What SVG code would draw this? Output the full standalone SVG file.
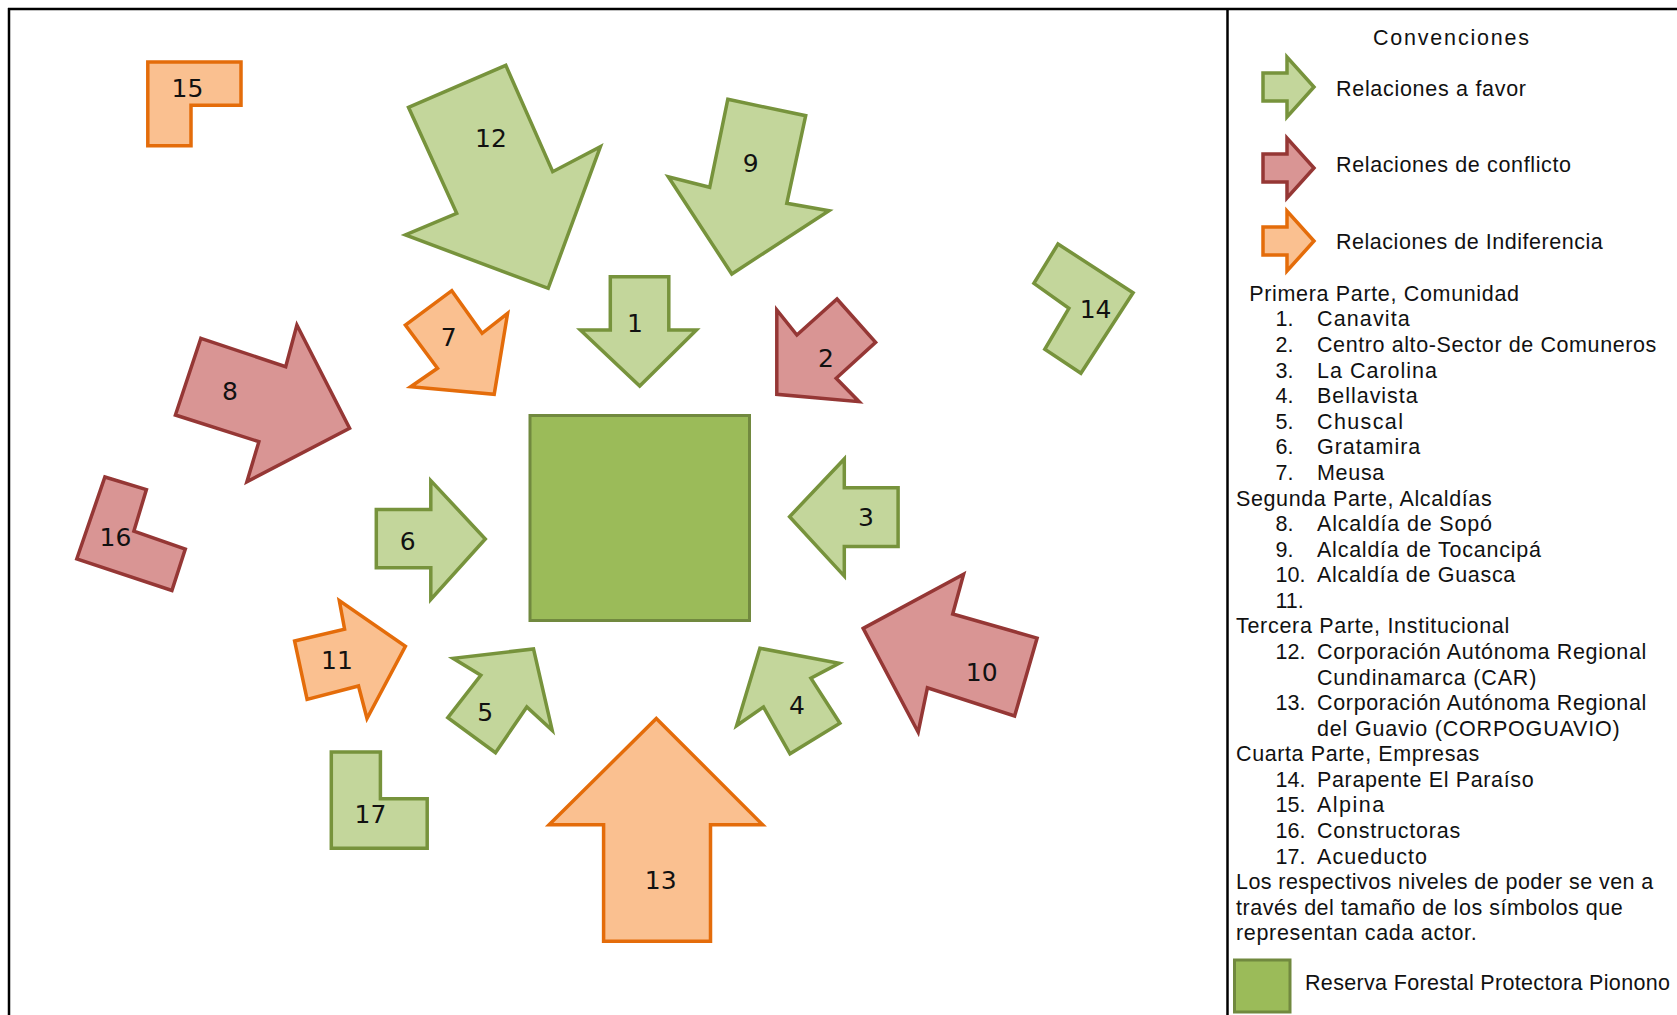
<svg xmlns="http://www.w3.org/2000/svg" width="1677" height="1015" viewBox="0 0 1677 1015">
<style>
.g{fill:#C3D69B;stroke:#77933C;stroke-width:3.5;stroke-linejoin:miter}
.r{fill:#D99594;stroke:#953735;stroke-width:3.5;stroke-linejoin:miter}
.o{fill:#FAC090;stroke:#E46C0A;stroke-width:3.5;stroke-linejoin:miter}
.sq{fill:#9BBB59;stroke:#71893F;stroke-width:3}
.lbl{font-family:"DejaVu Sans","Liberation Sans",sans-serif;font-size:25px;fill:#111;text-anchor:middle}
.lt{font-family:"Liberation Sans",Arial,sans-serif;font-size:21.5px;fill:#111}
.frame{stroke:#000;stroke-width:2.5;fill:none}
</style>
<defs>
<path id="legArrow" d="M0,-14 H24 V-30 L51,0 L24,30 V14 H0 Z"/>
</defs>
<rect width="1677" height="1015" fill="#fff"/>
<g id="frame">
<line class="frame" x1="8" y1="9" x2="1677" y2="9"/>
<line class="frame" x1="9" y1="8" x2="9" y2="1015"/>
<line class="frame" x1="1227.5" y1="8" x2="1227.5" y2="1015"/>
</g>
<g id="connectors"/>
<g id="reserva"><rect class="sq" x="530" y="415.5" width="219.5" height="205"/></g>
<g id="n1"><polygon class="g" points="610.3,276.7 668.8,276.7 668.8,330 696.4,330 639.7,386 580.4,330 610.3,330"/><text class="lbl" x="635" y="332">1</text></g>
<g id="n2"><polygon class="r" points="837,299 875.6,342.3 836.2,378.3 859.1,401.7 776.8,394.3 776.8,310 796.9,335"/><text class="lbl" x="826" y="366.7">2</text></g>
<g id="n3"><polygon class="g" points="789.6,516.7 844.3,459 844.3,487.8 898.1,487.8 898.1,546.6 844.3,546.6 844.3,576.1"/><text class="lbl" x="866" y="526.4">3</text></g>
<g id="n4"><polygon class="g" points="759.9,648.2 839.1,663.3 810.9,678.1 839.9,723.2 790,753.8 763.5,707 736.6,725.7"/><text class="lbl" x="797" y="714">4</text></g>
<g id="n5"><polygon class="g" points="533.5,648.9 552.2,730.4 526.8,707 495.5,752.7 447.8,717.7 480.8,675.2 453.1,658.3"/><text class="lbl" x="485.3" y="721">5</text></g>
<g id="n6"><polygon class="g" points="376.3,509.5 430.8,509.5 430.8,480.6 485.3,539 430.8,599.5 430.8,567.8 376.3,567.8"/><text class="lbl" x="407.6" y="550">6</text></g>
<g id="n7"><polygon class="o" points="451.8,290.7 482.1,333.3 507.6,313.3 494.2,394.3 410.7,386.7 437.5,368.3 405.4,325"/><text class="lbl" x="448.7" y="346">7</text></g>
<g id="n8"><polygon class="r" points="200.9,338.3 285.7,366.7 296.9,325 349.6,428.3 246.9,481.7 258.9,441.7 175.4,415"/><text class="lbl" x="229.9" y="400">8</text></g>
<g id="n9"><polygon class="g" points="727.8,99.3 805.7,115.7 786.8,203.3 829,210.7 731.8,274 668.3,176.7 709.7,187.3"/><text class="lbl" x="750.7" y="171.7">9</text></g>
<g id="n10"><polygon class="r" points="863.2,628.4 963.6,574.3 952.7,614 1037.1,638.1 1014.6,716 927.4,687.8 918.2,732.2"/><text class="lbl" x="981.7" y="680.6">10</text></g>
<g id="n11"><polygon class="o" points="294.6,641 344.6,629.1 339.3,600.6 405.4,646.4 367,718.5 358.5,686 307.1,699.4"/><text class="lbl" x="337" y="669">11</text></g>
<g id="n12"><polygon class="g" points="408.5,107.3 505.8,65.3 552.7,171.7 600.4,146.7 548.2,288.3 405.4,235 456.7,213.3"/><text class="lbl" x="491" y="146.7">12</text></g>
<g id="n13"><polygon class="o" points="656.3,718.5 762.7,824.8 710.5,824.8 710.5,941.2 603.6,941.2 603.6,824.8 549.1,824.8"/><text class="lbl" x="660.7" y="888.6">13</text></g>
<g id="n14"><polygon class="g" points="1058,244 1133.1,292.7 1080.9,373.3 1044.8,349.3 1068.9,308.3 1033.9,283.3"/><text class="lbl" x="1095.6" y="318.3">14</text></g>
<g id="n15"><polygon class="o" points="147.8,62 241,62 241,105.3 191,105.3 191,145.7 147.8,145.7"/><text class="lbl" x="187.5" y="97.3">15</text></g>
<g id="n16"><polygon class="r" points="104.9,477 146.4,489.6 133.9,531.1 185.3,549.1 171.9,590.5 76.8,558.8"/><text class="lbl" x="115.4" y="545.5">16</text></g>
<g id="n17"><polygon class="g" points="331.3,752 380.4,752 380.4,798.8 427.2,798.8 427.2,848.2 331.3,848.2"/><text class="lbl" x="370.5" y="823">17</text></g>
<g id="legend">
<text class="lt" x="1373" y="45" textLength="156" lengthAdjust="spacing">Convenciones</text>
<use href="#legArrow" class="g" transform="translate(1263,87)"/>
<text class="lt" x="1336" y="95.5" textLength="190" lengthAdjust="spacing">Relaciones a favor</text>
<use href="#legArrow" class="r" transform="translate(1263,168)"/>
<text class="lt" x="1336" y="172.3" textLength="235" lengthAdjust="spacing">Relaciones de conflicto</text>
<use href="#legArrow" class="o" transform="translate(1263,241)"/>
<text class="lt" x="1336" y="249.3" textLength="266.7" lengthAdjust="spacing">Relaciones de Indiferencia</text>
<text class="lt" x="1249.3" y="300.7" textLength="269.7" lengthAdjust="spacing">Primera Parte, Comunidad</text>
<text class="lt" x="1275.5" y="326.3">1.</text><text class="lt" x="1317" y="326.3" textLength="92.7" lengthAdjust="spacing">Canavita</text>
<text class="lt" x="1275.5" y="351.9">2.</text><text class="lt" x="1317" y="351.9" textLength="339.3" lengthAdjust="spacing">Centro alto-Sector de Comuneros</text>
<text class="lt" x="1275.5" y="377.5">3.</text><text class="lt" x="1317" y="377.5" textLength="120" lengthAdjust="spacing">La Carolina</text>
<text class="lt" x="1275.5" y="403.1">4.</text><text class="lt" x="1317" y="403.1" textLength="100.7" lengthAdjust="spacing">Bellavista</text>
<text class="lt" x="1275.5" y="428.7">5.</text><text class="lt" x="1317" y="428.7" textLength="86" lengthAdjust="spacing">Chuscal</text>
<text class="lt" x="1275.5" y="454.3">6.</text><text class="lt" x="1317" y="454.3" textLength="103.3" lengthAdjust="spacing">Gratamira</text>
<text class="lt" x="1275.5" y="479.9">7.</text><text class="lt" x="1317" y="479.9" textLength="67.3" lengthAdjust="spacing">Meusa</text>
<text class="lt" x="1236" y="505.5" textLength="255.7" lengthAdjust="spacing">Segunda Parte, Alcaldías</text>
<text class="lt" x="1275.5" y="531.1">8.</text><text class="lt" x="1317" y="531.1" textLength="175" lengthAdjust="spacing">Alcaldía de Sopó</text>
<text class="lt" x="1275.5" y="556.7">9.</text><text class="lt" x="1317" y="556.7" textLength="224" lengthAdjust="spacing">Alcaldía de Tocancipá</text>
<text class="lt" x="1275.5" y="582.3">10.</text><text class="lt" x="1317" y="582.3" textLength="198.3" lengthAdjust="spacing">Alcaldía de Guasca</text>
<text class="lt" x="1275.5" y="607.9">11.</text>
<text class="lt" x="1236" y="633.1" textLength="273.3" lengthAdjust="spacing">Tercera Parte, Institucional</text>
<text class="lt" x="1275.5" y="659.1">12.</text><text class="lt" x="1317" y="659.1" textLength="329.3" lengthAdjust="spacing">Corporación Autónoma Regional</text>
<text class="lt" x="1317" y="684.7" textLength="219.3" lengthAdjust="spacing">Cundinamarca (CAR)</text>
<text class="lt" x="1275.5" y="710.3">13.</text><text class="lt" x="1317" y="710.3" textLength="329.3" lengthAdjust="spacing">Corporación Autónoma Regional</text>
<text class="lt" x="1317" y="735.9" textLength="302.7" lengthAdjust="spacing">del Guavio (CORPOGUAVIO)</text>
<text class="lt" x="1236" y="761.1" textLength="243.3" lengthAdjust="spacing">Cuarta Parte, Empresas</text>
<text class="lt" x="1275.5" y="786.7">14.</text><text class="lt" x="1317" y="786.7" textLength="216.7" lengthAdjust="spacing">Parapente El Paraíso</text>
<text class="lt" x="1275.5" y="812.3">15.</text><text class="lt" x="1317" y="812.3" textLength="67.3" lengthAdjust="spacing">Alpina</text>
<text class="lt" x="1275.5" y="837.9">16.</text><text class="lt" x="1317" y="837.9" textLength="143.3" lengthAdjust="spacing">Constructoras</text>
<text class="lt" x="1275.5" y="863.5">17.</text><text class="lt" x="1317" y="863.5" textLength="110" lengthAdjust="spacing">Acueducto</text>
<text class="lt" x="1236" y="889.1" textLength="417.3" lengthAdjust="spacing">Los respectivos niveles de poder se ven a</text>
<text class="lt" x="1236" y="914.7" textLength="386.7" lengthAdjust="spacing">través del tamaño de los símbolos que</text>
<text class="lt" x="1236" y="940.3" textLength="240.7" lengthAdjust="spacing">representan cada actor.</text>
<rect class="sq" x="1234.5" y="960" width="55.5" height="52"/>
<text class="lt" x="1305" y="990" textLength="365" lengthAdjust="spacing">Reserva Forestal Protectora Pionono</text>
</g>
</svg>
